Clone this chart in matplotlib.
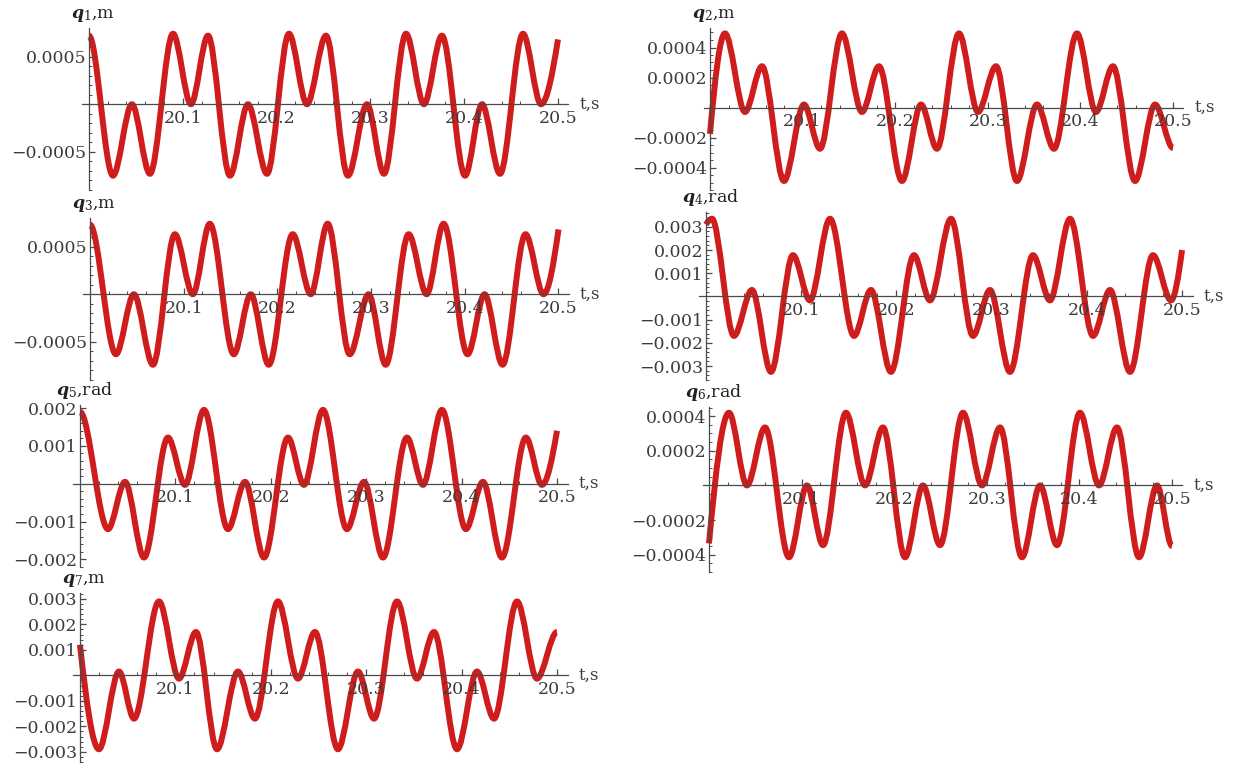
import numpy as np
import matplotlib.pyplot as plt
from matplotlib.path import Path
from matplotlib.patches import PathPatch

plt.rcParams['mathtext.fontset'] = 'custom'
plt.rcParams['mathtext.it'] = 'DejaVu Serif:italic:bold'
plt.rcParams['mathtext.rm'] = 'DejaVu Serif'
plt.rcParams['mathtext.bf'] = 'DejaVu Serif:bold'

# =======================================================
# DATA  (turning points of each coordinate, t in s)

q1_t = [20.000, 20.0256, 20.0458, 20.0650, 20.0896, 20.1087, 20.1269, 20.1503, 20.1695,
        20.1898, 20.2132, 20.2324, 20.2527, 20.2761, 20.2964, 20.3145, 20.3380, 20.3571,
        20.3763, 20.4009, 20.4190, 20.4382, 20.4627, 20.4819, 20.5000]
q1_v = [0.00072, -0.00075, 0.0, -0.00073, 0.00074, 0.0, 0.00072, -0.00075, 0.0,
        -0.00073, 0.00074, 0.0, 0.00072, -0.00075, 0.0, -0.00073, 0.00074, 0.0,
        0.00072, -0.00075, 0.0, -0.00073, 0.00074, 0.0, 0.00068]

q2_t = [20.000, 20.0162, 20.0378, 20.0562, 20.0799, 20.1015, 20.1188, 20.1425, 20.1641,
        20.1825, 20.2073, 20.2279, 20.2451, 20.2689, 20.2894, 20.3089, 20.3315, 20.3531,
        20.3715, 20.3963, 20.4168, 20.4352, 20.4590, 20.4806, 20.5000]
q2_v = [-0.000176, 0.000494, -0.00003, 0.000275, -0.00049, 0.00002, -0.000275, 0.000494, -0.00003,
        0.000275, -0.00049, 0.00002, -0.000275, 0.000494, -0.00003, 0.000275, -0.00049, 0.00002,
        -0.000275, 0.000494, -0.00003, 0.000275, -0.00049, 0.00002, -0.00027]

q3_t = [20.000, 20.0277, 20.0469, 20.0672, 20.0906, 20.1098, 20.1279, 20.1535, 20.1716,
        20.1908, 20.2164, 20.2356, 20.2537, 20.2772, 20.2974, 20.3156, 20.3401, 20.3593,
        20.3774, 20.4030, 20.4211, 20.4403, 20.4648, 20.4840, 20.5000]
q3_v = [0.00073, -0.00063, 0.0, -0.00074, 0.00063, 0.0, 0.00074, -0.00063, 0.0,
        -0.00074, 0.00063, 0.0, 0.00074, -0.00063, 0.0, -0.00074, 0.00063, 0.0,
        0.00074, -0.00063, 0.0, -0.00074, 0.00063, 0.0, 0.00068]

q4_t = [20.000, 20.0063, 20.0294, 20.0483, 20.0683, 20.0914, 20.1092, 20.1303, 20.1555,
        20.1733, 20.1943, 20.2185, 20.2353, 20.2574, 20.2805, 20.2983, 20.3193, 20.3435,
        20.3613, 20.3824, 20.4065, 20.4244, 20.4454, 20.4695, 20.4884, 20.5000]
q4_v = [0.0031, 0.00335, -0.0017, 0.00028, -0.00325, 0.00178, -0.00017, 0.00335, -0.0017,
        0.00028, -0.00325, 0.00178, -0.00017, 0.00335, -0.0017, 0.00028, -0.00325, 0.00178,
        -0.00017, 0.00335, -0.0017, 0.00028, -0.00325, 0.00178, -0.00017, 0.0020]

q5_t = [20.000, 20.0294, 20.0472, 20.0671, 20.0922, 20.1101, 20.1300, 20.1551, 20.1730,
        20.1929, 20.2180, 20.2348, 20.2547, 20.2798, 20.2977, 20.3176, 20.3427, 20.3595,
        20.3794, 20.4045, 20.4224, 20.4423, 20.4674, 20.4842, 20.5000]
q5_v = [0.0019, -0.0012, 0.00005, -0.00195, 0.00122, -0.00003, 0.00195, -0.0012, 0.00005,
        -0.00195, 0.00122, -0.00003, 0.00195, -0.0012, 0.00005, -0.00195, 0.00122, -0.00003,
        0.00195, -0.0012, 0.00005, -0.00195, 0.00122, -0.00003, 0.0014]

q6_t = [20.000, 20.0216, 20.0410, 20.0605, 20.0864, 20.1058, 20.1231, 20.1479, 20.1685,
        20.1879, 20.2117, 20.2311, 20.2495, 20.2743, 20.2948, 20.3143, 20.3380, 20.3575,
        20.3758, 20.4006, 20.4212, 20.4406, 20.4644, 20.4838, 20.5000]
q6_v = [-0.000335, 0.00042, 0.0, 0.000335, -0.000415, 0.0, -0.000345, 0.00042, 0.0,
        0.000335, -0.000415, 0.0, -0.000345, 0.00042, 0.0, 0.000335, -0.000415, 0.0,
        -0.000345, 0.00042, 0.0, 0.000335, -0.000415, 0.0, -0.00035]

q7_t = [20.000, 20.0199, 20.0409, 20.0566, 20.0828, 20.1038, 20.1216, 20.1436, 20.1656,
        20.1834, 20.2075, 20.2285, 20.2463, 20.2704, 20.2914, 20.3082, 20.3323, 20.3532,
        20.3711, 20.3952, 20.4161, 20.4340, 20.4581, 20.4790, 20.5000]
q7_v = [0.0012, -0.0029, 0.00015, -0.0017, 0.0029, -0.00013, 0.0017, -0.0029, 0.00015,
        -0.0017, 0.0029, -0.00013, 0.0017, -0.0029, 0.00015, -0.0017, 0.0029, -0.00013,
        0.0017, -0.0029, 0.00015, -0.0017, 0.0029, -0.00013, 0.0017]

x_ticks = [20.1, 20.2, 20.3, 20.4, 20.5]
x_labels = ['20.1', '20.2', '20.3', '20.4', '20.5']

y_ticks_a = [-0.0005, 0.0005]
y_labels_a = ['\u22120.0005', '0.0005']
y_ticks_b = [-0.0004, -0.0002, 0.0002, 0.0004]
y_labels_b = ['\u22120.0004', '\u22120.0002', '0.0002', '0.0004']
y_ticks_c = [-0.003, -0.002, -0.001, 0.001, 0.002, 0.003]
y_labels_c = ['\u22120.003', '\u22120.002', '\u22120.001', '0.001', '0.002', '0.003']
y_ticks_d = [-0.002, -0.001, 0.001, 0.002]
y_labels_d = ['\u22120.002', '\u22120.001', '0.001', '0.002']

# =======================================================
# HELPERS

W, H = 1234, 764
RED = '#cf1c1c'
AX_COL = '#4a4a4a'
TXT_COL = '#3c3c3c'
FS = 12.5


def smooth_path(t, v, free_start=False, free_end=False):
    # cubic segments between turning points, flat tangent at each extremum
    verts = [(t[0], v[0])]
    codes = [Path.MOVETO]
    n = len(t)
    for i in range(n - 1):
        dt = t[i + 1] - t[i]
        dv = v[i + 1] - v[i]
        c1 = (t[i] + dt / 3, v[i] + (dv * 0.55 if (free_start and i == 0) else 0))
        c2 = (t[i + 1] - dt / 3, v[i + 1] - (dv * 0.55 if (free_end and i == n - 2) else 0))
        verts += [c1, c2, (t[i + 1], v[i + 1])]
        codes += [Path.CURVE4] * 3
    return Path(verts, codes)


def panel(fig, box, ylim, t, v, yt, yl, ystep, name, free_start=False, free_end=False):
    x0, x1, y0, y1 = box
    ax = fig.add_axes([x0 / W, 1 - y1 / H, (x1 - x0) / W, (y1 - y0) / H])
    ax.set_xlim(19.993, 20.511)
    ax.set_ylim(*ylim)
    ax.patch.set_visible(False)

    for s in ['top', 'right']:
        ax.spines[s].set_visible(False)
    ax.spines['left'].set_position(('data', 20.0))
    ax.spines['bottom'].set_position(('data', 0))
    for s in ['left', 'bottom']:
        ax.spines[s].set_color(AX_COL)
        ax.spines[s].set_linewidth(0.9)

    ax.set_xticks(x_ticks, x_labels, fontsize=FS, color=TXT_COL, family='DejaVu Serif')
    ax.set_xticks(np.arange(20.02, 20.51, 0.02), minor=True)
    ax.set_yticks(yt, yl, fontsize=FS, color=TXT_COL, family='DejaVu Serif')
    ax.set_yticks(np.arange(ylim[0] - ylim[0] % ystep, ylim[1], ystep), minor=True)
    ax.tick_params(which='major', direction='in', length=4, width=0.9, color=AX_COL, pad=2)
    ax.tick_params(which='minor', direction='in', length=2, width=0.7, color=AX_COL)
    ax.tick_params(axis='x', which='major', pad=4)

    ax.add_patch(PathPatch(smooth_path(t, v, free_start, free_end), fill=False,
                           edgecolor=RED, linewidth=4.3, joinstyle='round', capstyle='butt'))

    ax.annotate(name, xy=(20.0, ylim[1]), xytext=(3, 3), textcoords='offset points',
                ha='center', va='bottom', fontsize=FS, color='#222222', family='DejaVu Serif')
    ax.annotate('t,s', xy=(1, 0), xycoords=('axes fraction', 'data'), xytext=(8, 0),
                textcoords='offset points', ha='left', va='center', fontsize=FS - 0.5,
                color=TXT_COL, family='DejaVu Serif')
    return ax


# =======================================================
# MAIN

fig = plt.figure(figsize=(W / 100, H / 100), dpi=100)

panel(fig, (82.4, 568.3, 28, 190), (-0.00082, 0.0008), q1_t, q1_v,
      y_ticks_a, y_labels_a, 0.0001, r'$q_1$,m', free_end=True)
panel(fig, (83.4, 568.8, 218, 380), (-0.00082, 0.0008), q3_t, q3_v,
      y_ticks_a, y_labels_a, 0.0001, r'$q_3$,m', free_end=True)
panel(fig, (73.3, 567.5, 405, 567), (-0.00208, 0.00208), q5_t, q5_v,
      y_ticks_d, y_labels_d, 0.0002, r'$q_5$,rad', free_end=True)
panel(fig, (73.3, 567.5, 593, 762), (-0.00327, 0.00323), q7_t, q7_v,
      y_ticks_c, y_labels_c, 0.0002, r'$q_7$,m', free_start=True)
panel(fig, (703.5, 1183.2, 28, 190), (-0.00054, 0.00053), q2_t, q2_v,
      y_ticks_b, y_labels_b, 0.00005, r'$q_2$,m', free_start=True)
panel(fig, (699.3, 1192.5, 212, 380), (-0.00355, 0.00364), q4_t, q4_v,
      y_ticks_c, y_labels_c, 0.0002, r'$q_4$,rad', free_start=True, free_end=True)
panel(fig, (702.5, 1182.2, 407, 572), (-0.000467, 0.000453), q6_t, q6_v,
      y_ticks_b, y_labels_b, 0.00005, r'$q_6$,rad', free_start=True)

plt.savefig('out.png', dpi=100)
plt.close()
